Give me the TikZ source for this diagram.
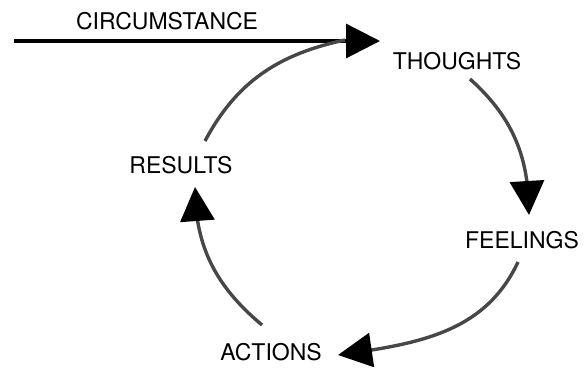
\documentclass[tikz,border=0pt]{standalone}
\usepackage{fontspec}
\setmainfont{TeX Gyre Heros}
\usetikzlibrary{arrows.meta,bending}
\begin{document}
\begin{tikzpicture}[x=1pt,y=1pt,
  lbl/.style={inner sep=0pt,anchor=base,font=\fontsize{23}{27}\selectfont},
  bigtip/.style={-{Triangle[length=34pt,width=34pt,fill=black,color=black]}},
  arc/.style={line width=3.4pt,draw=black!72,bigtip},
  mainline/.style={line width=3.2pt,draw=black,bigtip}]
\useasboundingbox (0,0) rectangle (588,370);
% labels
\node[lbl] (circ) at (167,340) {CIRCUMSTANCE};
\node[lbl] (thoughts) at (457,300) {THOUGHTS};
\node[lbl] (feelings) at (522,122) {FEELINGS};
\node[lbl] (actions) at (271,10) {ACTIONS};
\node[lbl] (results) at (181,197) {RESULTS};
% connector end points
\coordinate (cstart) at (14,329);
\coordinate (ttip) at (380,329);
\coordinate (tout) at (470,291);
\coordinate (ftip) at (529,155);
\coordinate (fout) at (518,108);
\coordinate (atip) at (338,15);
\coordinate (aout) at (262,45);
\coordinate (rtip) at (195,183);
\coordinate (rout) at (205,229);
\coordinate (tin) at (379,330);
% connectors
\draw[mainline] (cstart) -- (ttip);
\draw[arc] (tout) to[out=-42,in=90] (ftip);
\draw[arc] (fout) to[out=-115,in=8] (atip);
\draw[arc] (aout) to[out=140,in=-90] (rtip);
\draw[line width=3.4pt,draw=black!72] (rout) to[out=62,in=192] ([xshift=-34pt]tin);
\end{tikzpicture}
\end{document}
